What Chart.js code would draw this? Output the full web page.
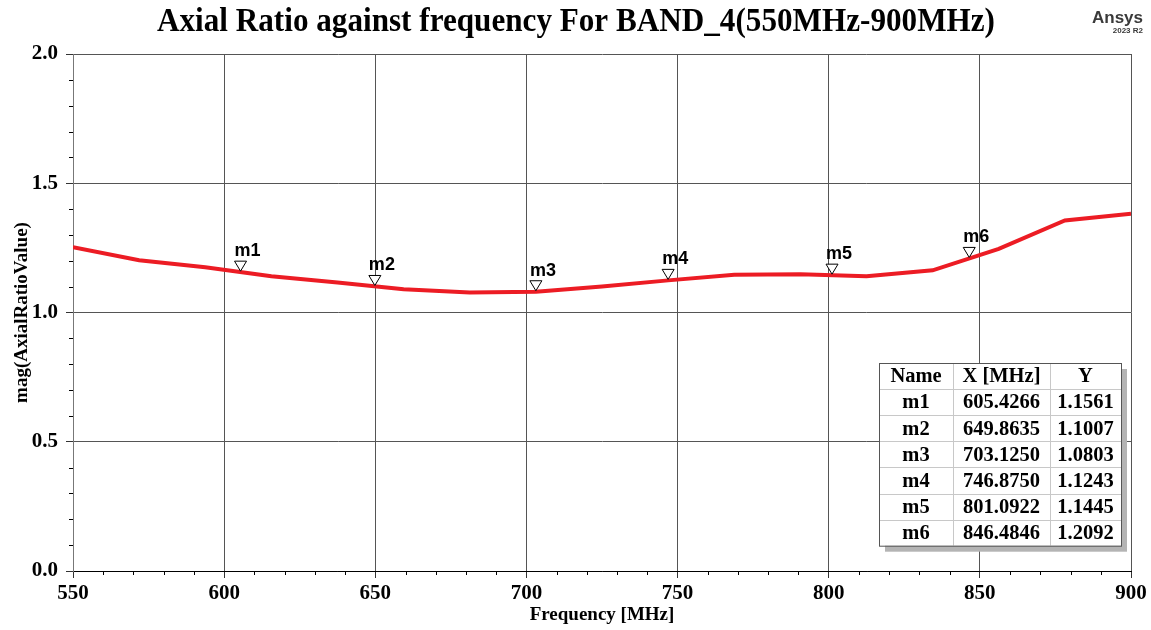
<!DOCTYPE html>
<html>
<head>
<meta charset="utf-8">
<script src="https://cdn.jsdelivr.net/npm/chart.js@4/dist/chart.umd.min.js"></script>
<style>
  html, body { margin: 0; padding: 0; background: #fff; }
  #wrap { width: 1151px; height: 630px; position: relative; }
</style>
</head>
<body>
<div id="wrap"><canvas id="chartLine" width="1151" height="630"></canvas></div>
<script>
// sweep points (MHz) and axial ratio
const freqs = [550, 571.875, 593.75, 615.625, 637.5, 659.375, 681.25, 703.125, 725,
  746.875, 768.75, 790.625, 812.5, 834.375, 856.25, 878.125, 900];
const axialRatio = [1.253, 1.202, 1.175, 1.140, 1.116, 1.090, 1.077, 1.0803, 1.101,
  1.1243, 1.146, 1.148, 1.140, 1.163, 1.246, 1.356, 1.382];

// markers
const markerNames = ["m1", "m2", "m3", "m4", "m5", "m6"];
const markerX = [605.4266, 649.8635, 703.1250, 746.8750, 801.0922, 846.4846];
const markerY = [1.1561, 1.1007, 1.0803, 1.1243, 1.1445, 1.2092];
const tableHeader = ["Name", "X [MHz]", "Y"];

const majorX = [550, 600, 650, 700, 750, 800, 850, 900];
const majorY = [0.0, 0.5, 1.0, 1.5, 2.0];

const titleText = "Axial Ratio against frequency For BAND_4(550MHz-900MHz)";
const xTitle = "Frequency [MHz]";
const yTitle = "mag(AxialRatioValue)";

const serif = "'Times New Roman', 'Liberation Serif', serif";
const sans = "Arial, 'Liberation Sans', sans-serif";

const isMajorX = (v) => majorX.includes(Math.round(v));
const isMajorY = (v) => majorY.some((m) => Math.abs(m - v) < 1e-6);

const headerPlugin = {
  id: "header",
  afterDraw(chart) {
    const ctx = chart.ctx;
    ctx.save();
    // title, squeezed a bit like the original
    ctx.font = "bold 34px " + serif;
    ctx.fillStyle = "#000";
    ctx.textBaseline = "middle";
    ctx.textAlign = "center";
    const w = ctx.measureText(titleText).width;
    const sx = 838 / w;
    ctx.translate(576, 22);
    ctx.scale(sx, 1);
    ctx.fillText(titleText, 0, 0);
    ctx.restore();

    ctx.save();
    ctx.fillStyle = "#3a3a3a";
    ctx.textAlign = "right";
    ctx.textBaseline = "alphabetic";
    ctx.font = "bold 17px " + sans;
    ctx.fillText("Ansys", 1143, 23);
    ctx.font = "bold 8px " + sans;
    ctx.fillText("2023 R2", 1143, 33);
    ctx.restore();
  },
};

// short minor ticks outside the axes
const minorTicks = {
  id: "minorTicks",
  afterDraw(chart) {
    const ctx = chart.ctx;
    const { x, y } = chart.scales;
    const a = chart.chartArea;
    ctx.save();
    ctx.strokeStyle = "#000";
    ctx.lineWidth = 1;
    x.ticks.forEach((t) => {
      if (isMajorX(t.value)) return;
      const px = Math.round(x.getPixelForValue(t.value)) + 0.5;
      ctx.beginPath();
      ctx.moveTo(px, a.bottom);
      ctx.lineTo(px, a.bottom + 4);
      ctx.stroke();
    });
    y.ticks.forEach((t) => {
      if (isMajorY(t.value)) return;
      const py = Math.round(y.getPixelForValue(t.value)) + 0.5;
      ctx.beginPath();
      ctx.moveTo(a.left - 4, py);
      ctx.lineTo(a.left, py);
      ctx.stroke();
    });
    ctx.restore();
  },
};

const markerPlugin = {
  id: "markers",
  afterDatasetsDraw(chart) {
    const ctx = chart.ctx;
    const xs = chart.scales.x;
    const ys = chart.scales.y;
    ctx.save();
    markerNames.forEach((name, i) => {
      const px = xs.getPixelForValue(markerX[i]);
      const py = ys.getPixelForValue(markerY[i]);
      ctx.beginPath();
      ctx.moveTo(px, py - 1);
      ctx.lineTo(px - 6, py - 11);
      ctx.lineTo(px + 6, py - 11);
      ctx.closePath();
      ctx.fillStyle = "#fff";
      ctx.fill();
      ctx.strokeStyle = "#000";
      ctx.lineWidth = 1;
      ctx.stroke();
      ctx.fillStyle = "#000";
      ctx.font = "bold 18px " + sans;
      ctx.textAlign = "left";
      ctx.textBaseline = "bottom";
      ctx.fillText(name, px - 6, py - 12);
    });
    ctx.restore();
  },
};

const tablePlugin = {
  id: "markerTable",
  afterDraw(chart) {
    const ctx = chart.ctx;
    const area = chart.chartArea;
    const colW = [74, 97, 71];
    const rowH = 26.1;
    const left = area.right - 252;
    const top = area.bottom - 208;
    const width = colW[0] + colW[1] + colW[2];
    const height = rowH * (markerNames.length + 1);
    ctx.save();
    ctx.fillStyle = "#b4b4b4";
    ctx.fillRect(left + 6, top + 6, width, height);
    ctx.fillStyle = "#fff";
    ctx.fillRect(left, top, width, height);
    ctx.strokeStyle = "#c8c8c8";
    ctx.lineWidth = 1;
    for (let r = 1; r <= markerNames.length; r++) {
      const y = Math.round(top + r * rowH) + 0.5;
      ctx.beginPath();
      ctx.moveTo(left, y);
      ctx.lineTo(left + width, y);
      ctx.stroke();
    }
    let cx = left;
    for (let c = 0; c < 2; c++) {
      cx += colW[c];
      ctx.beginPath();
      ctx.moveTo(Math.round(cx) + 0.5, top);
      ctx.lineTo(Math.round(cx) + 0.5, top + height);
      ctx.stroke();
    }
    ctx.strokeStyle = "#555";
    ctx.strokeRect(left + 0.5, top + 0.5, width, height);

    ctx.fillStyle = "#000";
    ctx.font = "bold 20.5px " + serif;
    ctx.textAlign = "center";
    ctx.textBaseline = "middle";
    const centers = [left + colW[0] / 2, left + colW[0] + colW[1] / 2, left + colW[0] + colW[1] + colW[2] / 2];
    tableHeader.forEach((h, c) => ctx.fillText(h, centers[c], top + rowH / 2 + 1));
    markerNames.forEach((name, i) => {
      const y = top + rowH * (i + 1.5) + 1;
      ctx.fillText(name, centers[0], y);
      ctx.fillText(markerX[i].toFixed(4), centers[1], y);
      ctx.fillText(markerY[i].toFixed(4), centers[2], y);
    });
    ctx.restore();
  },
};

const ctx = document.getElementById("chartLine").getContext("2d");
new Chart(ctx, {
  type: "line",
  data: {
    datasets: [
      {
        label: "AxialRatio",
        data: freqs.map((f, i) => ({ x: f, y: axialRatio[i] })),
        borderColor: "#ec1c24",
        borderWidth: 4,
        pointRadius: 0,
        tension: 0,
        fill: false,
      },
    ],
  },
  options: {
    responsive: false,
    animation: false,
    layout: { padding: { top: 54, right: 20, bottom: 0, left: 0 } },
    plugins: {
      legend: { display: false },
      title: { display: false },
      tooltip: { enabled: false },
    },
    scales: {
      x: {
        type: "linear",
        min: 550,
        max: 900,
        afterFit: (scale) => { scale.height = 59; },
        ticks: {
          stepSize: 10,
          autoSkip: false,
          maxRotation: 0,
          padding: 3,
          color: "#000",
          font: { family: serif, size: 21, weight: "bold" },
          callback: (v) => (isMajorX(v) ? String(Math.round(v)) : ""),
        },
        grid: {
          color: (c) => (c.tick && isMajorX(c.tick.value) ? "#555" : "rgba(0,0,0,0)"),
          tickColor: (c) => (c.tick && isMajorX(c.tick.value) ? "#333" : "rgba(0,0,0,0)"),
          tickLength: 7,
        },
        border: { color: "#000", width: 1 },
        title: {
          display: true,
          text: xTitle,
          color: "#000",
          font: { family: serif, size: 19, weight: "bold" },
          padding: { top: 0, bottom: 4 },
        },
      },
      y: {
        min: 0,
        max: 2,
        afterFit: (scale) => { scale.width = 73; },
        ticks: {
          stepSize: 0.1,
          autoSkip: false,
          padding: 8,
          color: "#000",
          font: { family: serif, size: 21, weight: "bold" },
          callback: (v) => (isMajorY(v) ? v.toFixed(1) : ""),
        },
        grid: {
          color: (c) => (c.tick && isMajorY(c.tick.value) ? "#555" : "rgba(0,0,0,0)"),
          tickColor: (c) => (c.tick && isMajorY(c.tick.value) ? "#333" : "rgba(0,0,0,0)"),
          tickLength: 7,
        },
        border: { color: "#777", width: 1 },
        title: {
          display: true,
          text: yTitle,
          color: "#000",
          font: { family: serif, size: 19, weight: "bold" },
          padding: { top: 11, bottom: 0 },
        },
      },
    },
  },
  plugins: [headerPlugin, minorTicks, markerPlugin, tablePlugin],
});
</script>
</body>
</html>
